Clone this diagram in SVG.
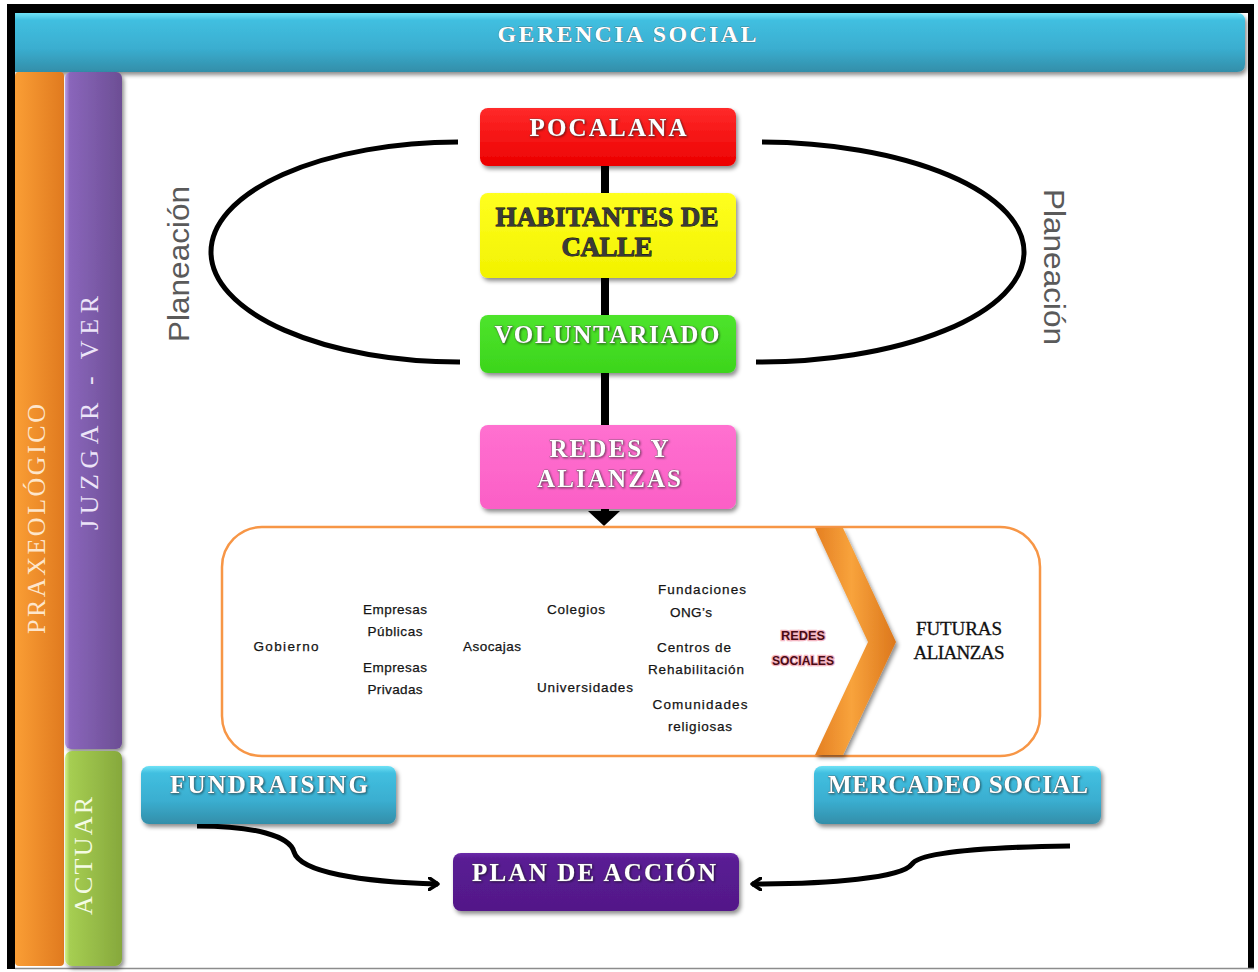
<svg xmlns="http://www.w3.org/2000/svg" width="1258" height="972" viewBox="0 0 1258 972">
  <style>
    .bar-title { font-family: "Liberation Serif", serif; font-weight: bold; fill: #ffffff; }
    .box-title { font-family: "Liberation Serif", serif; font-weight: bold; font-size: 25px; fill: #ffffff; text-anchor: middle; stroke: #5a5a5a; stroke-width: 0.6px; paint-order: stroke; }
    .box-dark { font-family: "Liberation Serif", serif; font-weight: bold; font-size: 27px; fill: #3a3a3a; text-anchor: middle; stroke: #000000; stroke-width: 0.8px; paint-order: stroke; }
    .side { font-family: "Liberation Serif", serif; font-size: 26px; text-anchor: middle; }
    .plan { font-family: "Liberation Sans", sans-serif; font-size: 29px; fill: #5a5a5a; text-anchor: middle; }
    .item { font-family: "Liberation Sans", sans-serif; font-size: 13.5px; fill: #141414; text-anchor: middle; stroke: #141414; stroke-width: 0.25px; }
    .redes { font-family: "Liberation Sans Narrow", "Liberation Sans", sans-serif; font-weight: bold; font-size: 12px; fill: #4a0a14; text-anchor: middle; stroke: #f4b6c2; stroke-width: 2.5px; paint-order: stroke; }
    .futuras { font-family: "Liberation Serif", serif; font-size: 19px; fill: #111111; text-anchor: middle; stroke: #111111; stroke-width: 0.3px; }
    .link { fill: none; stroke: #000000; }
  </style>
  <defs>
    <linearGradient id="gCyan" x1="0" y1="0" x2="0" y2="1">
      <stop offset="0" stop-color="#6fe2f6"/>
      <stop offset="0.12" stop-color="#41bfe0"/>
      <stop offset="0.6" stop-color="#3aaed0"/>
      <stop offset="1" stop-color="#338ea9"/>
    </linearGradient>
    <linearGradient id="gOrange" x1="0" y1="0" x2="1" y2="0">
      <stop offset="0" stop-color="#fa9e35"/>
      <stop offset="1" stop-color="#e07a1f"/>
    </linearGradient>
    <linearGradient id="gPurple" x1="0" y1="0" x2="1" y2="0">
      <stop offset="0" stop-color="#b9a0e6"/>
      <stop offset="0.08" stop-color="#8a66bb"/>
      <stop offset="1" stop-color="#6c4e94"/>
    </linearGradient>
    <linearGradient id="gGreen" x1="0" y1="0" x2="1" y2="0">
      <stop offset="0" stop-color="#d4f08a"/>
      <stop offset="0.08" stop-color="#a6ce52"/>
      <stop offset="1" stop-color="#86a83c"/>
    </linearGradient>
    <linearGradient id="gRed" x1="0" y1="0" x2="0" y2="1">
      <stop offset="0" stop-color="#ff2a2a"/>
      <stop offset="1" stop-color="#ec0000"/>
    </linearGradient>
    <linearGradient id="gYellow" x1="0" y1="0" x2="0" y2="1">
      <stop offset="0" stop-color="#ffff20"/>
      <stop offset="1" stop-color="#f2f200"/>
    </linearGradient>
    <linearGradient id="gLime" x1="0" y1="0" x2="0" y2="1">
      <stop offset="0" stop-color="#4ee42c"/>
      <stop offset="1" stop-color="#3cd51c"/>
    </linearGradient>
    <linearGradient id="gPink" x1="0" y1="0" x2="0" y2="1">
      <stop offset="0" stop-color="#ff70d0"/>
      <stop offset="1" stop-color="#fb5fc6"/>
    </linearGradient>
    <linearGradient id="gViolet" x1="0" y1="0" x2="0" y2="1">
      <stop offset="0" stop-color="#6a2aa8"/>
      <stop offset="0.1" stop-color="#5a1c94"/>
      <stop offset="1" stop-color="#521888"/>
    </linearGradient>
    <linearGradient id="gChevron" x1="0" y1="0" x2="1" y2="0">
      <stop offset="0" stop-color="#e47f22"/>
      <stop offset="0.45" stop-color="#f8a33c"/>
      <stop offset="1" stop-color="#dc771c"/>
    </linearGradient>
    <filter id="shadow" x="-10%" y="-20%" width="125%" height="150%">
      <feDropShadow dx="2" dy="3" stdDeviation="2" flood-color="#000000" flood-opacity="0.45"/>
    </filter>
    <filter id="textShadow" x="-5%" y="-20%" width="110%" height="150%">
      <feDropShadow dx="1" dy="1" stdDeviation="0.8" flood-color="#000000" flood-opacity="0.5"/>
    </filter>
    <marker id="arrowOpen" viewBox="0 0 12 14" refX="10" refY="7" markerWidth="12" markerHeight="14" markerUnits="userSpaceOnUse" orient="auto">
      <path d="M1,1 L10,7 L1,13" fill="none" stroke="#000000" stroke-width="3.5" stroke-linecap="round" stroke-linejoin="round"/>
    </marker>
  </defs>

  <!-- page frame -->
  <rect x="0" y="0" width="1258" height="972" fill="#ffffff"/>
  <rect x="7" y="4" width="1247" height="965" fill="#000000"/>
  <rect x="15" y="13" width="1233" height="955" fill="#ffffff"/>
  <line x1="15" y1="968.5" x2="1254" y2="968.5" stroke="#8c8c8c" stroke-width="1.5"/>

  <!-- header band -->
  <g id="gerencia-social">
    <path d="M15,13 H1237 Q1245,13 1245,21 V64 Q1245,72 1237,72 H15 Z" fill="url(#gCyan)" filter="url(#shadow)"/>
    <text class="bar-title" x="627" y="42" font-size="24" text-anchor="middle" textLength="259" lengthAdjust="spacing" stroke="#4a4a4a" stroke-width="0.5" paint-order="stroke">GERENCIA SOCIAL</text>
  </g>

  <!-- side bands -->
  <g id="praxeologico">
    <rect x="15" y="72" width="49" height="894" rx="4" fill="url(#gOrange)"/>
    <text class="side" fill="#fde6cc" transform="translate(45,519) rotate(-90)" textLength="230" lengthAdjust="spacing">PRAXEOLÓGICO</text>
  </g>
  <g id="juzgar-ver">
    <rect x="65" y="72" width="57" height="677" rx="6" fill="url(#gPurple)" filter="url(#shadow)"/>
    <text class="side" fill="#ece4f8" transform="translate(98,413) rotate(-90)" textLength="234" lengthAdjust="spacing">JUZGAR - VER</text>
  </g>
  <g id="actuar">
    <rect x="65" y="751" width="57" height="215" rx="7" fill="url(#gGreen)" filter="url(#shadow)"/>
    <text class="side" fill="#f4fbe4" transform="translate(92,856) rotate(-90)" textLength="118" lengthAdjust="spacing">ACTUAR</text>
  </g>

  <!-- connectors -->
  <g id="connectors">
    <line class="link" x1="605" y1="160" x2="605" y2="514" stroke-width="8"/>
    <path d="M588,511 L620,511 L604,526 Z" fill="#000000"/>
    <path class="link" d="M458,142 A248 110 0 0 0 460,362" stroke-width="5"/>
    <path class="link" d="M762,142 A265 110 0 0 1 756,362" stroke-width="5"/>
    <path class="link" d="M197,826 C255,826 290,836 294,852 C300,872 360,882 438,884" stroke-width="5" marker-end="url(#arrowOpen)"/>
    <path class="link" d="M1070,846 C990,847 920,852 912,864 C902,878 830,884 752,884" stroke-width="5" marker-end="url(#arrowOpen)"/>
  </g>

  <!-- planning labels -->
  <g id="planeacion-izq">
    <text class="plan" transform="translate(189,264) rotate(-90)" textLength="156" lengthAdjust="spacingAndGlyphs">Planeación</text>
  </g>
  <g id="planeacion-der">
    <text class="plan" transform="translate(1044,267) rotate(90)" textLength="156" lengthAdjust="spacingAndGlyphs">Planeación</text>
  </g>

  <!-- central column -->
  <g id="pocalana">
    <rect x="480" y="108" width="256" height="58" rx="8" fill="url(#gRed)" filter="url(#shadow)"/>
    <text class="box-title" x="608" y="136" textLength="157" lengthAdjust="spacing" filter="url(#textShadow)">POCALANA</text>
  </g>
  <g id="habitantes-de-calle">
    <rect x="480" y="193" width="256" height="85" rx="8" fill="url(#gYellow)" filter="url(#shadow)"/>
    <text class="box-dark" x="607" y="226" textLength="223" lengthAdjust="spacing">HABITANTES DE</text>
    <text class="box-dark" x="607" y="256" textLength="91" lengthAdjust="spacing">CALLE</text>
  </g>
  <g id="voluntariado">
    <rect x="480" y="315" width="256" height="58" rx="8" fill="url(#gLime)" filter="url(#shadow)"/>
    <text class="box-title" x="607" y="343" textLength="225" lengthAdjust="spacing" filter="url(#textShadow)">VOLUNTARIADO</text>
  </g>
  <g id="redes-y-alianzas">
    <rect x="480" y="425" width="256" height="84" rx="8" fill="url(#gPink)" filter="url(#shadow)"/>
    <text class="box-title" x="609" y="457" textLength="119" lengthAdjust="spacing" filter="url(#textShadow)">REDES Y</text>
    <text class="box-title" x="609" y="487" textLength="144" lengthAdjust="spacing" filter="url(#textShadow)">ALIANZAS</text>
  </g>

  <!-- network panel -->
  <g id="redes-panel">
    <rect x="222" y="527" width="818" height="229" rx="40" fill="#ffffff" stroke="#f79646" stroke-width="2.5"/>
    <path d="M815,528 L843,528 L896,642 L843,755 L815,755 L868,642 Z" fill="url(#gChevron)" filter="url(#shadow)"/>
    <text class="item" x="286" y="651" textLength="65" lengthAdjust="spacing">Gobierno</text>
    <text class="item" x="395" y="614" textLength="64" lengthAdjust="spacing">Empresas</text>
    <text class="item" x="395" y="636" textLength="55" lengthAdjust="spacing">Públicas</text>
    <text class="item" x="395" y="672" textLength="64" lengthAdjust="spacing">Empresas</text>
    <text class="item" x="395" y="694" textLength="55" lengthAdjust="spacing">Privadas</text>
    <text class="item" x="492" y="651" textLength="58" lengthAdjust="spacing">Asocajas</text>
    <text class="item" x="576" y="614" textLength="58" lengthAdjust="spacing">Colegios</text>
    <text class="item" x="585" y="692" textLength="96" lengthAdjust="spacing">Universidades</text>
    <text class="item" x="702" y="594" textLength="88" lengthAdjust="spacing">Fundaciones</text>
    <text class="item" x="691" y="617" textLength="42" lengthAdjust="spacing">ONG’s</text>
    <text class="item" x="694" y="652" textLength="74" lengthAdjust="spacing">Centros de</text>
    <text class="item" x="696" y="674" textLength="96" lengthAdjust="spacing">Rehabilitación</text>
    <text class="item" x="700" y="709" textLength="95" lengthAdjust="spacing">Comunidades</text>
    <text class="item" x="700" y="731" textLength="64" lengthAdjust="spacing">religiosas</text>
    <text class="redes" x="803" y="640" textLength="44" lengthAdjust="spacingAndGlyphs">REDES</text>
    <text class="redes" x="803" y="665" textLength="62" lengthAdjust="spacingAndGlyphs">SOCIALES</text>
    <text class="futuras" x="959" y="635" textLength="86" lengthAdjust="spacing">FUTURAS</text>
    <text class="futuras" x="959" y="659" textLength="91" lengthAdjust="spacing">ALIANZAS</text>
  </g>

  <!-- action row -->
  <g id="fundraising">
    <rect x="141" y="766" width="255" height="58" rx="8" fill="url(#gCyan)" filter="url(#shadow)"/>
    <text class="box-title" x="269" y="793" textLength="198" lengthAdjust="spacing" filter="url(#textShadow)">FUNDRAISING</text>
  </g>
  <g id="mercadeo-social">
    <rect x="814" y="766" width="287" height="58" rx="8" fill="url(#gCyan)" filter="url(#shadow)"/>
    <text class="box-title" x="958" y="793" textLength="260" lengthAdjust="spacing" filter="url(#textShadow)">MERCADEO SOCIAL</text>
  </g>
  <g id="plan-de-accion">
    <rect x="453" y="853" width="286" height="58" rx="8" fill="url(#gViolet)" filter="url(#shadow)"/>
    <text class="box-title" x="594" y="881" textLength="244" lengthAdjust="spacing" filter="url(#textShadow)">PLAN DE ACCIÓN</text>
  </g>
</svg>
